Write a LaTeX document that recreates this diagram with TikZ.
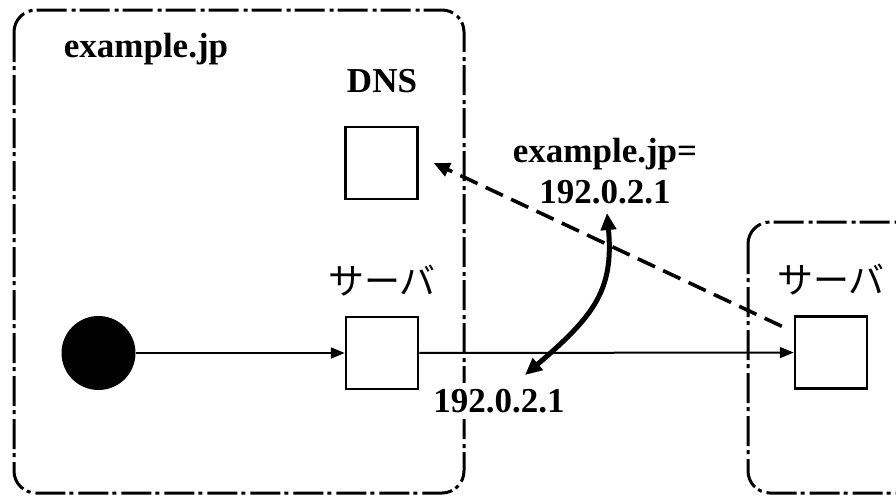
\documentclass[tikz,border=0pt]{standalone}
\usepackage{fontspec}
\setmainfont{Liberation Serif}
\newfontfamily\jpfont{Noto Sans CJK JP}
\usetikzlibrary{arrows.meta}

\begin{document}
\begin{tikzpicture}[x=1pt,y=-1pt,
  zone/.style={line width=3pt, rounded corners=22pt,
    dash pattern=on 30pt off 4pt on 4pt off 5pt},
  hostbox/.style={draw, line width=2.5pt, minimum width=72pt, minimum height=72pt, inner sep=0pt},
  client/.style={circle, fill=black, minimum size=74pt, inner sep=0pt},
  lbl/.style={font=\bfseries\fontsize{35}{39}\selectfont, inner sep=0pt},
  jplbl/.style={font=\jpfont\fontsize{36}{40}\selectfont, inner sep=0pt},
  flow/.style={line width=2pt, -{Triangle[length=14pt,width=11pt]}},
  query/.style={line width=3.6pt, dash pattern=on 19pt off 9pt,
    -{Triangle[length=16pt,width=14pt]}},
  resolve/.style={line width=5pt,
    {Triangle[length=17pt,width=15pt]}-{Triangle[length=17pt,width=15pt]}}]

  \useasboundingbox (0,0) rectangle (896,496);
  \clip (0,0) rectangle (896,496);

  % domain zones
  \draw[zone] (14,10) rectangle (464,493);
  \draw[zone] (748,222) rectangle (960,493);

  % labels
  \node[lbl, anchor=base] (domain) at (146,57) {example.jp};
  \node[lbl, anchor=base] (dnslbl) at (382,92) {DNS};
  \node[lbl, anchor=base] (ansA) at (605,162) {example.jp=};
  \node[lbl, anchor=base] (ansB) at (605,203) {192.0.2.1};
  \node[lbl, anchor=base, fill=white, inner ysep=6pt, inner xsep=1pt] (ipaddr) at (499,412) {192.0.2.1};
  \node[jplbl] (srvAlbl) at (382,281) {サーバ};
  \node[jplbl] (srvBlbl) at (831,280) {サーバ};

  % hosts
  \node[hostbox] (dns) at (381.5,163) {};
  \node[hostbox] (srvA) at (382,353) {};
  \node[hostbox] (srvB) at (831,352.5) {};
  \node[client] (user) at (98.5,353) {};

  % connections
  \draw[flow] (user) -- (srvA);
  \draw[flow] (srvA) -- (srvB);
  \coordinate (qstart) at ([shift={(-12,11)}]srvB.north west);
  \coordinate (qend) at ([shift={(15,0)}]dns.east);
  \draw[query] (qstart) -- (qend);
  \coordinate (ipBot) at (525,375);
  \coordinate (ipTop) at (607,213);
  \draw[resolve] (ipBot) .. controls (594,316) and (614,290) .. (ipTop);
\end{tikzpicture}
\end{document}
